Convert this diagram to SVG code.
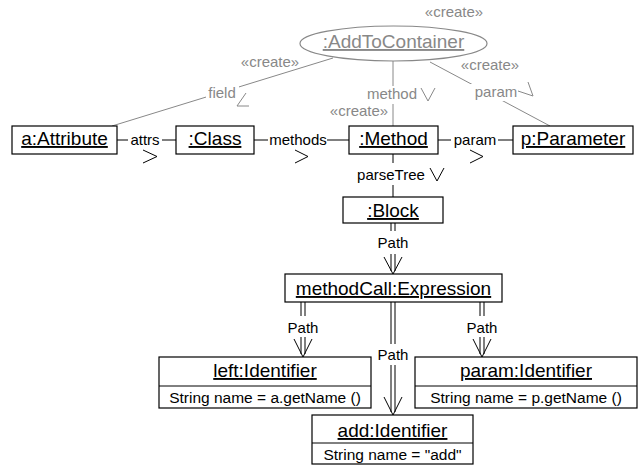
<svg xmlns="http://www.w3.org/2000/svg" width="644" height="466" viewBox="0 0 644 466">
<style>
text{font-family:"Liberation Sans",Arial,sans-serif}
.t{font-size:19px;text-anchor:middle;text-decoration:underline;fill:#000}
.a{font-size:15.5px;text-anchor:middle;fill:#000}
.l{font-size:15px;text-anchor:middle;fill:#000}
.g{font-size:15px;text-anchor:middle;fill:#888}
.box{fill:#fff;stroke:#000;stroke-width:1.2}
.ln{stroke:#000;stroke-width:1;fill:none}
.gl{stroke:#888;stroke-width:1;fill:none}
.bg{fill:#fff}
</style>
<g id="connectors">
  <!-- create links from AddToContainer -->
  <line class="gl" x1="112" y1="126" x2="333" y2="58"/>
  <line class="gl" x1="393" y1="61" x2="393" y2="126"/>
  <line class="gl" x1="550" y1="126" x2="430" y2="62"/>
  <!-- horizontal links -->
  <line class="ln" x1="117" y1="140" x2="176" y2="140"/>
  <line class="ln" x1="254" y1="140" x2="349" y2="140"/>
  <line class="ln" x1="438" y1="140" x2="513" y2="140"/>
  <line class="ln" x1="393" y1="154" x2="393" y2="197"/>
  <!-- Path links (double lines) -->
  <path class="ln" d="M391 223V271M395 223V271M384 257L393 274L402 257"/>
  <path class="ln" d="M301 302V354M305 302V354M294 339L303 357L312 339"/>
  <path class="ln" d="M391 302V412M395 302V412M384 397L393 415L402 397"/>
  <path class="ln" d="M480 302V354M484 302V354M473 339L482 357L491 339"/>
  <!-- label backgrounds -->
  <rect class="bg" x="206" y="84" width="33" height="17"/>
  <rect class="bg" x="365" y="86" width="55" height="18"/>
  <rect class="bg" x="468" y="84" width="57" height="17"/>
  <rect class="bg" x="128" y="132" width="34" height="16"/>
  <rect class="bg" x="268" y="132" width="59" height="16"/>
  <rect class="bg" x="451" y="132" width="47" height="16"/>
  <rect class="bg" x="355" y="163" width="72" height="22"/>
  <rect class="bg" x="375" y="231" width="36" height="23"/>
  <rect class="bg" x="285" y="316" width="36" height="21"/>
  <rect class="bg" x="375" y="344" width="36" height="21"/>
  <rect class="bg" x="464" y="316" width="36" height="21"/>
  <!-- labels -->
  <text class="g" x="454" y="17">«create»</text>
  <text class="g" x="270" y="67">«create»</text>
  <text class="g" x="490" y="70">«create»</text>
  <text class="g" x="359" y="116">«create»</text>
  <text class="g" x="222" y="98">field</text>
  <text class="g" x="392" y="99">method</text>
  <text class="g" x="496" y="97">param</text>
  <polyline class="gl" points="246,93 237,106 249,106"/>
  <polyline class="gl" points="421,88 428,101 435,88"/>
  <polyline class="gl" points="518,91 533,96 528,82"/>
  <text class="l" x="145" y="145">attrs</text>
  <text class="l" x="298" y="145">methods</text>
  <text class="l" x="475" y="145">param</text>
  <polyline class="ln" points="143,150 157,156.5 143,163"/>
  <polyline class="ln" points="295,150 308,156.5 295,163"/>
  <polyline class="ln" points="470,150 483,156.5 470,163"/>
  <text class="l" x="391" y="180">parseTree</text>
  <polyline class="ln" points="430,168 437,181 444,168"/>
  <text class="l" x="393" y="248">Path</text>
  <text class="l" x="303" y="333">Path</text>
  <text class="l" x="393" y="360">Path</text>
  <text class="l" x="482" y="333">Path</text>
</g>
<g id="AddToContainer">
  <ellipse cx="393.5" cy="43.5" rx="93.5" ry="17.5" fill="#fff" stroke="#888" stroke-width="1.2"/>
  <text class="t" x="393.5" y="48" style="fill:#888">:AddToContainer</text>
</g>
<g id="aAttribute">
  <rect class="box" x="12" y="126" width="105" height="28"/>
  <text class="t" x="64.5" y="145">a:Attribute</text>
</g>
<g id="Class">
  <rect class="box" x="176" y="126" width="78" height="28"/>
  <text class="t" x="215" y="145">:Class</text>
</g>
<g id="Method">
  <rect class="box" x="349" y="126" width="89" height="28"/>
  <text class="t" x="393.5" y="145">:Method</text>
</g>
<g id="pParameter">
  <rect class="box" x="513" y="126" width="120" height="28"/>
  <text class="t" x="573" y="145">p:Parameter</text>
</g>
<g id="Block">
  <rect class="box" x="343" y="197" width="100" height="26"/>
  <text class="t" x="393" y="217">:Block</text>
</g>
<g id="methodCall">
  <rect class="box" x="285" y="274" width="217" height="28"/>
  <text class="t" x="393.5" y="295">methodCall:Expression</text>
</g>
<g id="leftIdentifier">
  <rect class="box" x="159" y="357" width="212" height="51"/>
  <line class="ln" x1="159" y1="386" x2="371" y2="386"/>
  <text class="t" x="265" y="377">left:Identifier</text>
  <text class="a" x="265" y="403">String name = a.getName ()</text>
</g>
<g id="paramIdentifier">
  <rect class="box" x="415" y="357" width="222" height="51"/>
  <line class="ln" x1="415" y1="386" x2="637" y2="386"/>
  <text class="t" x="526" y="377">param:Identifier</text>
  <text class="a" x="526" y="403">String name = p.getName ()</text>
</g>
<g id="addIdentifier">
  <rect class="box" x="312" y="415" width="161" height="49"/>
  <line class="ln" x1="312" y1="443" x2="473" y2="443"/>
  <text class="t" x="392.5" y="437">add:Identifier</text>
  <text class="a" x="392.5" y="460">String name = "add"</text>
</g>
</svg>
